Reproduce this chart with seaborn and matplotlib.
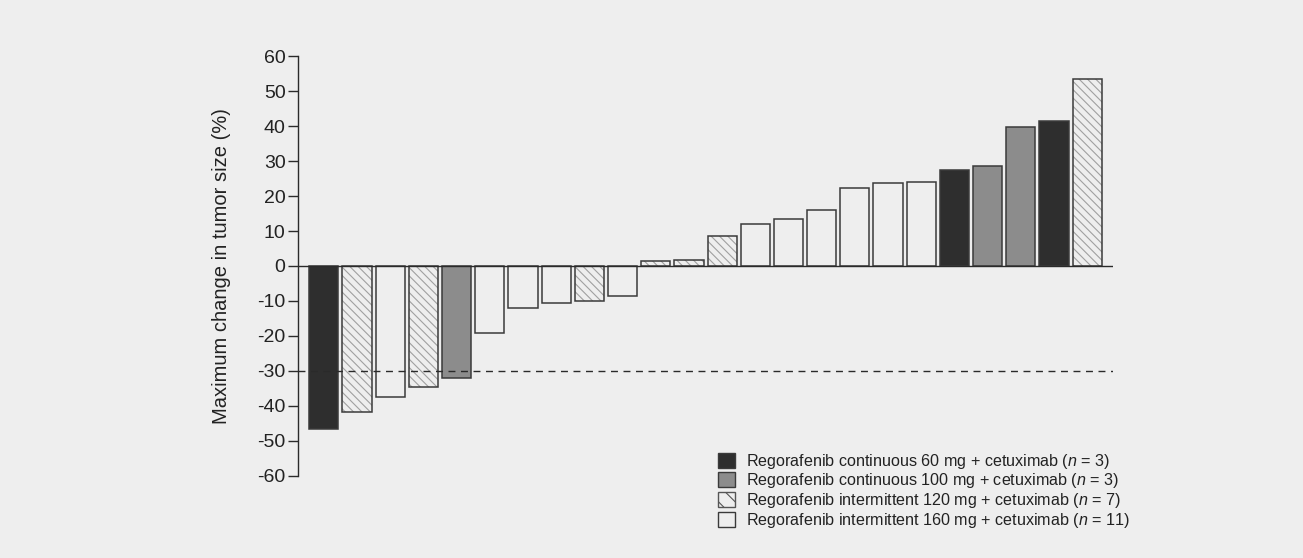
import matplotlib
matplotlib.use("Agg")
import matplotlib.pyplot as plt
import seaborn as sns
import pandas as pd
from matplotlib.patches import Patch, Rectangle

# ---- data ----
values = [-46.7, -41.7, -37.3, -34.5, -31.9, -19.2, -12.1, -10.5, -9.9, -8.5,
          1.3, 1.7, 8.7, 12.0, 13.5, 16.0, 22.3, 23.6, 24.0,
          27.3, 28.6, 39.6, 41.5, 53.4]
groups = ["c60", "i120", "i160", "i120", "c100", "i160", "i160", "i160", "i120", "i160",
          "i120", "i120", "i120", "i160", "i160", "i160", "i160", "i160", "i160",
          "c60", "c100", "c100", "c60", "i120"]
group_keys = ["c60", "c100", "i120", "i160"]
group_labels = [
    r"Regorafenib continuous 60 mg + cetuximab ($n$ = 3)",
    r"Regorafenib continuous 100 mg + cetuximab ($n$ = 3)",
    r"Regorafenib intermittent 120 mg + cetuximab ($n$ = 7)",
    r"Regorafenib intermittent 160 mg + cetuximab ($n$ = 11)",
]
y_ticks = [60, 50, 40, 30, 20, 10, 0, -10, -20, -30, -40, -50, -60]
threshold = -30
y_label = "Maximum change in tumor size (%)"

# ---- style ----
bg = "#eeeeee"
edge = "#3a3a3a"
hatch_col = "#a0a0a0"
fills = {"c60": "#2e2e2e", "c100": "#8c8c8c", "i120": bg, "i160": bg}
hatched = {"i120"}

sns.set_theme(style="white")
plt.rcParams["font.family"] = ["Liberation Sans", "DejaVu Sans"]
plt.rcParams["mathtext.fontset"] = "custom"
plt.rcParams["mathtext.it"] = "Liberation Sans:italic"
plt.rcParams["mathtext.rm"] = "Liberation Sans"
plt.rcParams["hatch.linewidth"] = 0.8

fig = plt.figure(figsize=(13.03, 5.58), dpi=100, facecolor=bg)
ax = fig.add_axes([0.2287, 0.147, 0.854 - 0.2287, 0.8996 - 0.147])
ax.set_facecolor(bg)

df = pd.DataFrame({"idx": [str(i) for i in range(len(values))],
                   "value": values, "group": groups})
sns.barplot(data=df, x="idx", y="value", hue="group", hue_order=group_keys,
            palette=fills, dodge=False, width=0.88, edgecolor=edge,
            linewidth=1.1, legend=False, ax=ax, saturation=1)

# apply hatch to intermittent 120 mg bars
for p in list(ax.patches):
    if p.get_width() <= 0:
        continue
    i = int(round(p.get_x() + p.get_width() / 2))
    if 0 <= i < len(groups) and groups[i] in hatched:
        p.set_hatch("\\\\\\\\")
        p.set_edgecolor(hatch_col)
        p.set_linewidth(0)
        ax.add_patch(Rectangle(p.get_xy(), p.get_width(), p.get_height(),
                               fill=False, edgecolor=edge, linewidth=1.1, zorder=p.get_zorder() + 0.1))

ax.set_xlim(-0.78, 23.77)
ax.set_ylim(-60, 60)
ax.axhline(0, color="#2a2a2a", lw=1.0, zorder=5)
ax.axhline(threshold, color="#2a2a2a", lw=1.0, ls=(0, (5, 4)), zorder=5)

ax.set_yticks(y_ticks)
ax.set_yticklabels([str(t) for t in y_ticks], fontsize=14, color="#222222")
ax.tick_params(axis="y", direction="out", length=7, width=1, color="#2a2a2a", pad=2, left=True)
ax.set_xticks([])
ax.set_xlabel("")
ax.set_ylabel(y_label, fontsize=14.5, color="#222222", labelpad=19)

for s in ["top", "right", "bottom"]:
    ax.spines[s].set_visible(False)
ax.spines["left"].set_color("#2a2a2a")
ax.spines["left"].set_linewidth(1.0)

handles = []
for k in group_keys:
    if k in hatched:
        handles.append(Patch(facecolor=bg, edgecolor="#555555", hatch="\\\\", linewidth=1.0))
    else:
        handles.append(Patch(facecolor=fills[k], edgecolor=edge, linewidth=1.0))
leg = ax.legend(handles, group_labels, loc="upper left", bbox_to_anchor=(0.516, 0.058),
                frameon=False, fontsize=11.6, handlelength=1.05, handleheight=1.05,
                handletextpad=0.65, labelspacing=0.05, borderpad=0, borderaxespad=0)
for t in leg.get_texts():
    t.set_color("#222222")

fig.savefig("out.png", dpi=100, facecolor=bg)
